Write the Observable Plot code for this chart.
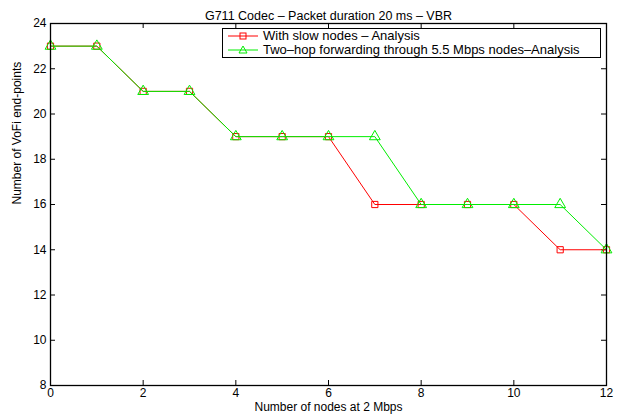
<!DOCTYPE html>
<html><head><meta charset="utf-8">
<script src="https://cdn.jsdelivr.net/npm/d3@7"></script>
<script src="https://cdn.jsdelivr.net/npm/@observablehq/plot@0.6"></script>
<style>
body{margin:0;background:#fff;}
#wrap{position:relative;width:620px;height:416px;font-family:"Liberation Sans",Arial,Helvetica,sans-serif;}
.legend{position:absolute;left:222px;top:28px;width:377px;height:28px;border:1px solid #000;background:#fff;font-size:13px;line-height:14px;}
.legend .row{display:flex;align-items:center;height:14px;}
.legend svg{display:block;margin-left:5px;margin-right:5px;}
</style></head><body><div id="wrap"></div>
<script>
const title = "G711 Codec – Packet duration 20 ms – VBR";
const xLabel = "Number of nodes at 2 Mbps";
const yLabel = "Number of VoFi end-points";
const nodes = [0,1,2,3,4,5,6,7,8,9,10,11,12];
const slowNodes = [23,23,21,21,19,19,19,16,16,16,16,14,14];
const twoHop =    [23,23,21,21,19,19,19,19,16,16,16,16,14];
const seriesNames = ["With slow nodes – Analysis", "Two–hop forwarding through 5.5 Mbps nodes–Analysis"];
const seriesColors = ["#ff0000", "#00ee00"];
const seriesSymbols = ["square", "triangle"];
const xTicks = [0,2,4,6,8,10,12];
const yTicks = [8,10,12,14,16,18,20,22,24];

const W = 620, H = 416, mt = 23, mb = 31, ml = 50, mr = 14;
const iw = W - ml - mr, ih = H - mt - mb;

const dSlow = nodes.map((n,i)=>({x:n, y:slowNodes[i]}));
const dTwo = nodes.map((n,i)=>({x:n, y:twoHop[i]}));
const font = "'Liberation Sans',Arial,Helvetica,sans-serif";

const chart = Plot.plot({
  width: W, height: H,
  marginTop: mt, marginBottom: mb, marginLeft: ml, marginRight: mr,
  style: {fontFamily: font, fontSize: "12px", background: "#fff", color: "#000"},
  x: {domain: [0, 12]},
  y: {domain: [8, 24]},
  marks: [
    Plot.axisX({ticks: xTicks, tickSize: 0, tickPadding: 3, fontSize: 12, label: null}),
    Plot.axisY({ticks: yTicks, tickSize: 0, tickPadding: 4, fontSize: 12, label: null}),
    Plot.tickX(xTicks, {x: d=>d, insetTop: ih - 5, stroke: "#000"}),
    Plot.tickX(xTicks, {x: d=>d, insetBottom: ih - 5, stroke: "#000"}),
    Plot.tickY(yTicks, {y: d=>d, insetRight: iw - 5, stroke: "#000"}),
    Plot.tickY(yTicks, {y: d=>d, insetLeft: iw - 5, stroke: "#000"}),
    Plot.line(dSlow, {x:"x", y:"y", stroke: seriesColors[0], strokeWidth: 1}),
    Plot.dot(dSlow, {x:"x", y:"y", stroke: seriesColors[0], symbol: seriesSymbols[0], r: 3.5, fill: "none", strokeWidth: 1}),
    Plot.line(dTwo, {x:"x", y:"y", stroke: seriesColors[1], strokeWidth: 1}),
    Plot.dot(dTwo, {x:"x", y:"y", stroke: seriesColors[1], symbol: seriesSymbols[1], r: 4, fill: "none", strokeWidth: 1}),
    Plot.frame({stroke: "#000", strokeWidth: 1.3}),
    Plot.text([title], {frameAnchor: "top", dy: -12, fontSize: 12.5, fill: "#000"}),
    Plot.text([xLabel], {frameAnchor: "bottom", dy: 25, fontSize: 12, fill: "#000"}),
    Plot.text([yLabel], {frameAnchor: "left", dx: -33, rotate: -90, fontSize: 12, fill: "#000"})
  ]
});
const wrap = document.getElementById("wrap");
wrap.appendChild(chart);

const leg = document.createElement("div");
leg.className = "legend";
seriesNames.forEach((name, i) => {
  const row = document.createElement("div");
  row.className = "row";
  const sym = i === 0
    ? `<rect x="12" y="4" width="6" height="6" fill="none" stroke="${seriesColors[i]}"/>`
    : `<path d="M15,3 L19,10 L11,10 Z" fill="none" stroke="${seriesColors[i]}"/>`;
  row.innerHTML = `<svg width="30" height="14"><line x1="0" x2="30" y1="7" y2="7" stroke="${seriesColors[i]}"/>${sym}</svg><span>${name}</span>`;
  leg.appendChild(row);
});
wrap.appendChild(leg);
</script>
</body></html>
